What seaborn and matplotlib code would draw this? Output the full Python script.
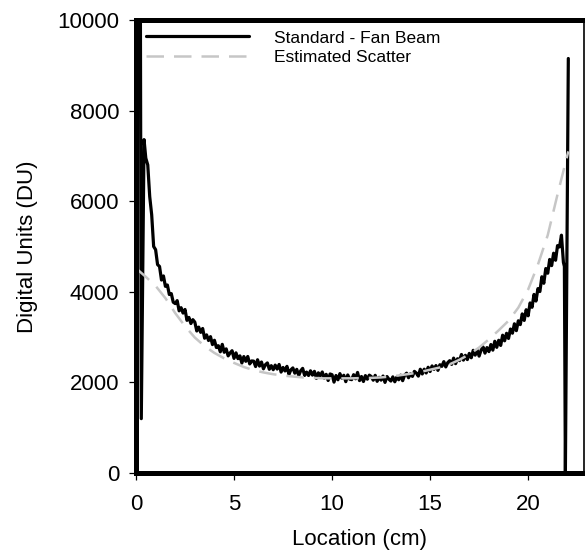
import numpy as np
import pandas as pd
import matplotlib
matplotlib.use("Agg")
import matplotlib.pyplot as plt
import seaborn as sns


# standard fan beam profile, one reading every 0.1 cm from 0.5 cm to 21.8 cm
FAN_START = 0.5
FAN_STEP = 0.1
fan_du = [
    6950, 6800, 6100, 5700, 5000,
    4930, 4600, 4560, 4260, 4350, 4120, 4150, 3940, 3960, 3770,
    3740, 3805, 3580, 3650, 3530, 3610, 3370, 3435, 3300, 3385,
    3330, 3135, 3220, 3105, 3190, 2975, 3050, 2925, 3010, 2835,
    2930, 2770, 2810, 2675, 2840, 2665, 2740, 2585, 2650, 2700,
    2530, 2652, 2524, 2586, 2428, 2570, 2466, 2572, 2408, 2474,
    2470, 2350, 2500, 2360, 2450, 2300, 2390, 2430, 2290, 2370,
    2280, 2382, 2294, 2396, 2228, 2330, 2252, 2354, 2176, 2278,
    2320, 2204, 2288, 2152, 2256, 2310, 2154, 2228, 2152, 2256,
    2160, 2244, 2088, 2212, 2146, 2230, 2094, 2178, 2042, 2186,
    2170, 2006, 2152, 2058, 2194, 2090, 2158, 2016, 2164, 2072,
    2060, 2170, 2080, 2220, 2040, 2130, 2020, 2150, 2070, 2160,
    2130, 2048, 2156, 2024, 2112, 2050, 2140, 2000, 2130, 2070,
    2030, 2122, 2014, 2116, 2058, 2160, 2038, 2156, 2204, 2102,
    2190, 2132, 2244, 2206, 2138, 2290, 2186, 2292, 2208, 2334,
    2240, 2364, 2288, 2372, 2266, 2390, 2354, 2458, 2342, 2436,
    2480, 2398, 2536, 2414, 2522, 2480, 2616, 2492, 2598, 2504,
    2640, 2544, 2708, 2602, 2716, 2580, 2712, 2784, 2646, 2768,
    2680, 2836, 2712, 2908, 2774, 2930, 2816, 3042, 2918, 3084,
    2970, 3178, 3086, 3294, 3142, 3360, 3276, 3512, 3368, 3604,
    3470, 3754, 3658, 3942, 3796, 4070, 4006, 4332, 4188, 4514,
    4410, 4714, 4578, 4852, 4696, 5020, 4990, 5250, 4650,
]

# detector edge artefacts
left_edge_cm = [0.2, 0.27, 0.41]
left_edge_du = [15000, 1200, 7360]
right_edge_cm = [21.85, 21.9, 22.05]
right_edge_du = [4560, 0, 9150]

# estimated scatter curve
scatter_cm = [0.0, 0.5, 1.0, 1.5, 2.0, 2.5, 3.0, 3.5, 4.0, 4.5, 5.0, 5.5,
              6.0, 6.5, 7.0, 7.5, 8.0, 8.5, 9.0, 9.5, 10.0, 10.5, 11.0,
              11.5, 12.0, 12.5, 13.0, 13.5, 14.0, 14.5, 15.0, 15.5, 16.0,
              16.5, 17.0, 17.5, 18.0, 18.5, 19.0, 19.5, 20.0, 20.5, 21.0,
              21.5, 22.05]
scatter_du = [4520, 4330, 4130, 3860, 3530, 3240, 2990, 2800, 2650, 2530,
              2430, 2340, 2270, 2220, 2180, 2150, 2130, 2110, 2100, 2090,
              2090, 2090, 2090, 2095, 2100, 2110, 2130, 2160, 2190, 2230,
              2280, 2330, 2400, 2500, 2620, 2770, 2950, 3150, 3360, 3650,
              4050, 4600, 5250, 6150, 7100]

X_TICKS = [0, 5, 10, 15, 20]
Y_TICKS = [0, 2000, 4000, 6000, 8000, 10000]


fan_cm = list(np.round(FAN_START + FAN_STEP * np.arange(len(fan_du)), 2))
fan = pd.DataFrame({
    "cm": left_edge_cm + fan_cm + right_edge_cm,
    "du": left_edge_du + fan_du + right_edge_du,
})
scatter = pd.DataFrame({"cm": scatter_cm, "du": scatter_du})


sns.set_style("ticks")
plt.rcParams["font.family"] = ["Liberation Sans", "DejaVu Sans"]
plt.rcParams["text.color"] = "black"
plt.rcParams["axes.labelcolor"] = "black"
plt.rcParams["xtick.color"] = "black"
plt.rcParams["ytick.color"] = "black"

fig = plt.figure(figsize=(5.85, 5.52), dpi=100)
ax = fig.add_axes([136 / 585, 79 / 552, 448 / 585, 453 / 552])

sns.lineplot(data=fan, x="cm", y="du", ax=ax, color="black", lw=2.3,
             estimator=None, sort=False, label="Standard - Fan Beam")
sns.lineplot(data=scatter, x="cm", y="du", ax=ax, color="#c6c6c6", lw=1.8,
             estimator=None, sort=False, linestyle=(0, (7, 4)),
             label="Estimated Scatter")

ax.set_xlim(0, 22.85)
ax.set_ylim(0, 10000)
ax.set_xticks(X_TICKS)
ax.set_yticks(Y_TICKS)
ax.tick_params(labelsize=16, length=5, width=0.9, colors="black")
ax.tick_params(axis="x", pad=10)
ax.tick_params(axis="y", pad=7)
ax.set_xlabel("Location (cm)", fontsize=16, labelpad=10)
ax.set_ylabel("Digital Units (DU)", fontsize=16, labelpad=14)

for side in ["left", "top", "bottom"]:
    ax.spines[side].set_linewidth(3.6)
    ax.spines[side].set_color("black")
ax.spines["right"].set_linewidth(1.2)
ax.spines["right"].set_color("black")

ax.legend(loc="upper left", bbox_to_anchor=(0, 1), frameon=False,
          fontsize=12.5, handlelength=5.9, handletextpad=1.45,
          labelspacing=0.25, borderaxespad=0.2)

fig.savefig("out.png", dpi=100)
